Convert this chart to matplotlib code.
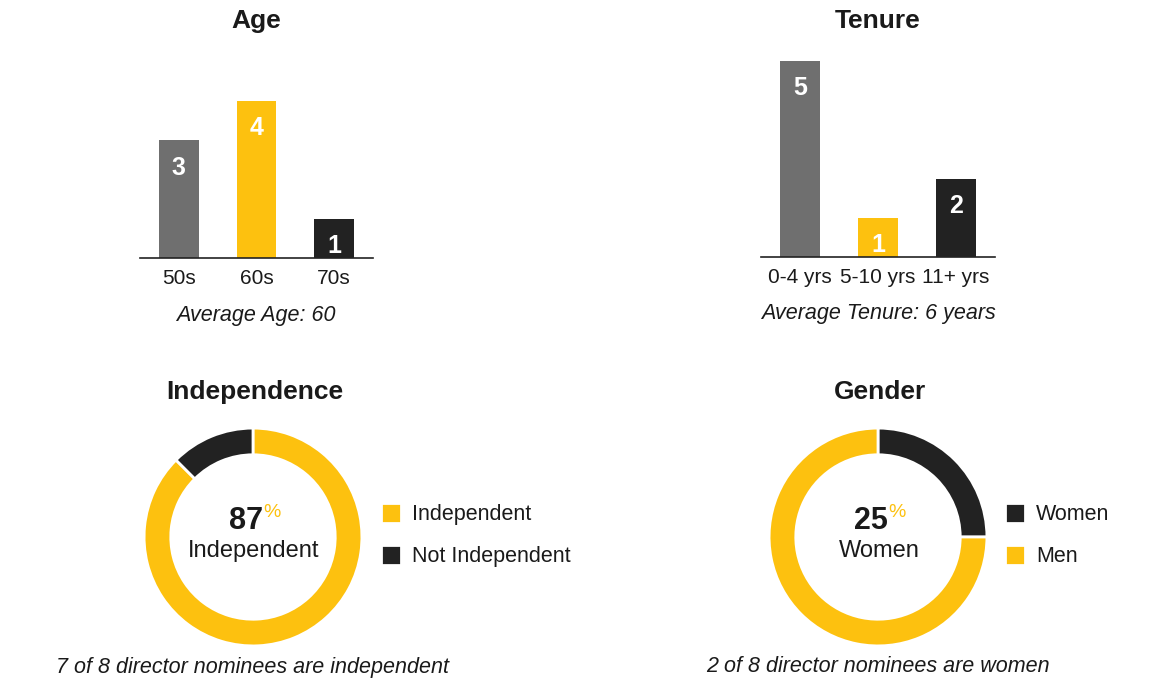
import matplotlib
matplotlib.use("Agg")
import matplotlib.pyplot as plt

plt.rcParams['font.family'] = ['Liberation Sans', 'DejaVu Sans']

# data
age_cats = ["50s", "60s", "70s"]
age_vals = [3, 4, 1]
tenure_cats = ["0-4 yrs", "5-10 yrs", "11+ yrs"]
tenure_vals = [5, 1, 2]
indep_labels = ["Independent", "Not Independent"]
indep_vals = [7, 1]
gender_labels = ["Women", "Men"]
gender_vals = [2, 6]

GRAY = "#6f6f6f"
YEL = "#fdc10f"
BLK = "#222222"
TXT = "#1a1a1a"

W, H = 1166, 694
fig = plt.figure(figsize=(W / 100, H / 100), dpi=100)

def fx(x):
    return x / W

def fy(y):
    return 1 - y / H

def bar_panel(left, right, base, cats, vals, title, note, tx, note_y):
    ax = fig.add_axes([fx(left), fy(base), fx(right - left), 5.2 * 39.2 / H])
    bars = ax.bar(range(len(vals)), vals, width=0.515, color=[GRAY, YEL, BLK])
    for b, v in zip(bars, vals):
        ax.annotate(str(v), (b.get_x() + b.get_width() / 2, v), xytext=(0, -11),
                    textcoords="offset points", ha="center", va="top",
                    color="white", fontsize=18, fontweight="bold")
    ax.set_xlim(-0.5, 2.5)
    ax.set_ylim(0, 5.2)
    ax.set_xticks(range(len(cats)))
    ax.set_xticklabels(cats, fontsize=15, color=TXT)
    ax.tick_params(axis="x", length=0, pad=8)
    ax.set_yticks([])
    for s in ["top", "left", "right"]:
        ax.spines[s].set_visible(False)
    ax.spines["bottom"].set_color(BLK)
    ax.spines["bottom"].set_linewidth(1.2)
    fig.text(fx(tx), fy(21), title, ha="center", va="center", fontsize=19,
             fontweight="bold", color=TXT)
    fig.text(fx(tx), fy(note_y), note, ha="center", va="center", fontsize=15.5,
             style="italic", color=TXT)

bar_panel(140, 373, 258, age_cats, age_vals, "Age", "Average Age: 60", 256, 315)
bar_panel(761, 995, 257, tenure_cats, tenure_vals, "Tenure",
          "Average Tenure: 6 years", 878, 313)

def donut(cx, cy, vals, labels, colors, pct, sub, title, note, leg_x):
    r = 110
    ax = fig.add_axes([fx(cx - r), fy(cy + r), fx(2 * r), 2 * r / H])
    wedges, _ = ax.pie(vals, colors=colors, startangle=90, counterclock=False,
                       radius=1, wedgeprops=dict(width=0.245, edgecolor="white",
                                                 linewidth=2))
    ax.set_xlim(-1.01, 1.01)
    ax.set_ylim(-1.01, 1.01)
    fig.text(fx(cx + 10), fy(529), pct, ha="right", va="baseline",
             fontsize=22, fontweight="bold", color=TXT)
    fig.text(fx(cx + 10), fy(504), "%", ha="left", va="top",
             fontsize=14, color=YEL)
    fig.text(fx(cx + 1), fy(551), sub, ha="center", va="center",
             fontsize=17, color=TXT)
    fig.text(fx(cx + 2), fy(392), title, ha="center", va="center",
             fontsize=19, fontweight="bold", color=TXT)
    fig.text(fx(cx), fy(667), note, ha="center", va="center", fontsize=15.5,
             style="italic", color=TXT)
    fig.legend(wedges, labels, loc="center left",
               bbox_to_anchor=(fx(leg_x - 1), fy(535)), frameon=False,
               fontsize=15.5, handlelength=0.95, handleheight=1.05,
               handletextpad=0.5, labelspacing=0.9, borderaxespad=0,
               borderpad=0, labelcolor=TXT)

donut(253, 537, indep_vals, indep_labels, [YEL, BLK], "87", "Independent",
      "Independence", "7 of 8 director nominees are independent", 382)

# legend order in the reference: Women (black) first, Men (yellow)
donut(878, 537, gender_vals, gender_labels, [BLK, YEL], "25", "Women",
      "Gender", "2 of 8 director nominees are women", 1006)

fig.savefig("out.png", dpi=100, facecolor="white")
